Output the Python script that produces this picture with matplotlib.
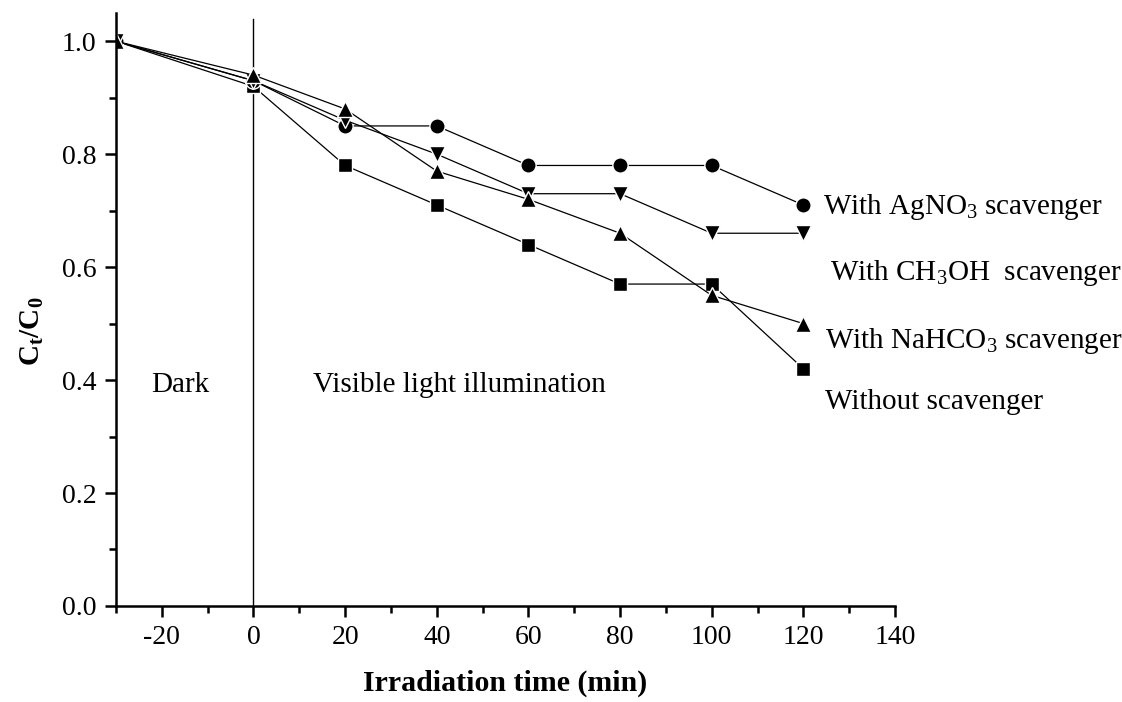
import matplotlib
matplotlib.use("Agg")
import matplotlib.pyplot as plt
from matplotlib.ticker import MultipleLocator

plt.rcParams["font.family"] = ["Liberation Serif", "DejaVu Serif"]
plt.rcParams["mathtext.fontset"] = "custom"
plt.rcParams["mathtext.rm"] = "Liberation Serif"
plt.rcParams["mathtext.it"] = "Liberation Serif:italic"
plt.rcParams["mathtext.bf"] = "Liberation Serif:bold"

# Irradiation time (min); -30 to 0 is the dark adsorption period
time = [-30, 0, 20, 40, 60, 80, 100, 120]

agno3 = [1.00, 0.93, 0.85, 0.85, 0.78, 0.78, 0.78, 0.71]
ch3oh = [1.00, 0.93, 0.86, 0.80, 0.73, 0.73, 0.66, 0.66]
nahco3 = [1.00, 0.94, 0.88, 0.77, 0.72, 0.66, 0.55, 0.50]
without = [1.00, 0.92, 0.78, 0.71, 0.64, 0.57, 0.57, 0.42]

series_labels = [
    r"With AgNO$_3$ scavenger",
    r"With CH$_3$OH  scavenger",
    r"With NaHCO$_3$ scavenger",
    "Without scavenger",
]

fig = plt.figure(figsize=(11.22, 7.02), dpi=100)
ax = fig.add_axes([0.1034, 0.1368, 0.6943, 0.8447])

style = dict(color="black", lw=0.9, markeredgecolor="white", markeredgewidth=1.0)
ax.plot(time, without, marker="s", ms=10, **style)
ax.plot(time, agno3, marker="o", ms=11, **style)
ax.plot(time, ch3oh, marker="v", ms=12, **style)
ax.plot(time, nahco3, marker="^", ms=12, **style)

# boundary between dark and illumination periods
ax.plot([0, 0], [0, 1.04], color="black", lw=1.0, zorder=1)

ax.set_xlim(-30, 140)
ax.set_ylim(0, 1.05)
ax.xaxis.set_major_locator(MultipleLocator(20))
ax.xaxis.set_minor_locator(MultipleLocator(10))
ax.yaxis.set_major_locator(MultipleLocator(0.2))
ax.yaxis.set_minor_locator(MultipleLocator(0.1))
ax.xaxis.set_major_formatter(plt.FuncFormatter(lambda v, p: f"{v:.0f}"))
ax.yaxis.set_major_formatter(plt.FuncFormatter(lambda v, p: f"{v:.1f}"))

for s in ["top", "right"]:
    ax.spines[s].set_visible(False)
for s in ["left", "bottom"]:
    ax.spines[s].set_linewidth(1.8)

ax.tick_params(which="major", direction="out", length=8, width=1.8, labelsize=20, pad=6)
ax.tick_params(which="minor", direction="out", length=5, width=1.8)

ax.set_xlabel("Irradiation time (min)", fontsize=21.5, fontweight="bold", labelpad=14)
ax.set_ylabel(r"$\mathbf{C_t/C_0}$", fontsize=21)
ax.yaxis.set_label_coords(-0.09, 0.464)

ax.text(-22.4, 0.392, "Dark", fontsize=21, va="center", ha="left")
ax.text(13, 0.392, "Visible light illumination", fontsize=21, va="center", ha="left")

label_pos = [(124.3, 0.706), (125.9, 0.590), (124.8, 0.470), (124.8, 0.362)]
for (lx, ly), txt in zip(label_pos, series_labels):
    ax.text(lx, ly, txt, fontsize=21, va="center", ha="left", clip_on=False)

fig.savefig("out.png", dpi=100)
